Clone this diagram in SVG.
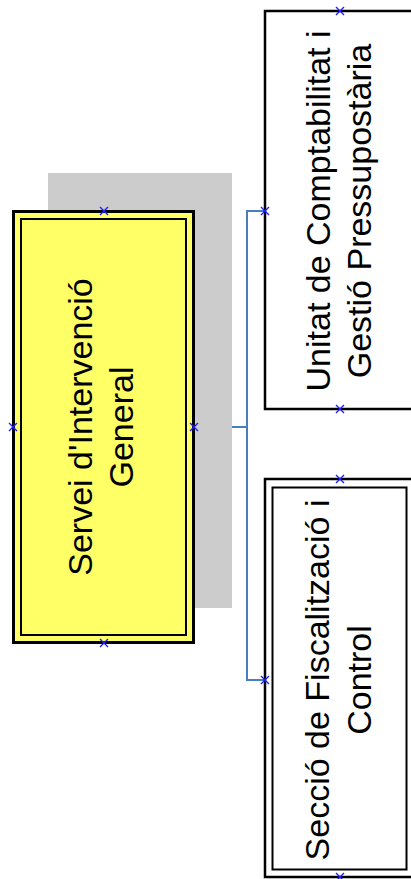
<svg xmlns="http://www.w3.org/2000/svg" width="411" height="879" viewBox="0 0 411 879">
<style>
.lbl{font-family:"Liberation Sans",Arial,sans-serif;font-size:34px;fill:#000;text-anchor:middle}
.conn{fill:none;stroke:#4A7EBB;stroke-width:2}
.mk{fill:none;stroke:#2020FF;stroke-width:1.4}
</style>
<defs>
<path id="x" class="mk" d="M-4,-4 L4,4 M-4,4 L4,-4"/>
</defs>
<rect width="411" height="879" fill="#fff"/>
<g id="connectors">
<path class="conn" d="M194,427 H247 M265,211 H247 V680 H265"/>
</g>
<g id="node-servei">
<rect x="48" y="173" width="184" height="435" fill="#CCCCCC"/>
<rect x="13.5" y="211.5" width="180" height="431" fill="#FFFF66" stroke="#000" stroke-width="3"/>
<rect x="21" y="219" width="165" height="416" fill="none" stroke="#000" stroke-width="2"/>
<text class="lbl" transform="translate(92,427) rotate(-90)">Servei d'Intervenció</text>
<text class="lbl" transform="translate(133,427) rotate(-90)">General</text>
<use href="#x" x="104" y="211"/>
<use href="#x" x="13" y="427"/>
<use href="#x" x="194" y="427"/>
<use href="#x" x="104" y="643"/>
</g>
<g id="node-unitat">
<rect x="265" y="11" width="152" height="398" fill="#fff" stroke="#000" stroke-width="2.5"/>
<text class="lbl" transform="translate(330,211) rotate(-90)">Unitat de Comptabilitat i</text>
<text class="lbl" transform="translate(371,211) rotate(-90)">Gestió Pressupostària</text>
<use href="#x" x="340" y="11"/>
<use href="#x" x="265" y="211"/>
<use href="#x" x="340" y="409"/>
</g>
<g id="node-seccio">
<rect x="265" y="479" width="152" height="398" fill="#fff" stroke="#000" stroke-width="2.5"/>
<rect x="272.5" y="487.5" width="134" height="382" fill="none" stroke="#000" stroke-width="2"/>
<text class="lbl" transform="translate(329,680) rotate(-90)">Secció de Fiscalització i</text>
<text class="lbl" transform="translate(371,680) rotate(-90)">Control</text>
<use href="#x" x="340" y="479"/>
<use href="#x" x="265" y="680"/>
<use href="#x" x="340" y="877"/>
</g>
</svg>
